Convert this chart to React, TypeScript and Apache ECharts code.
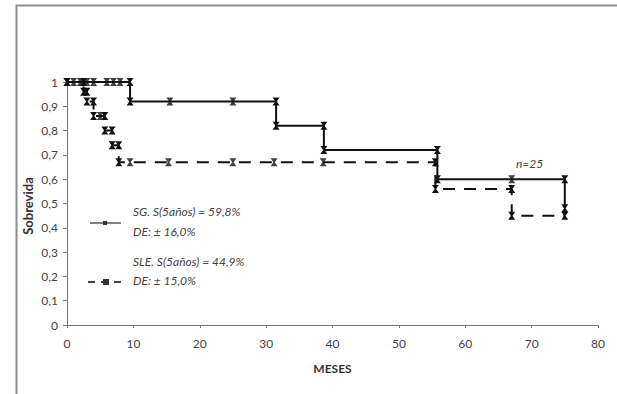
import React, { useEffect, useRef } from "react";
import * as echarts from "echarts";

// Kaplan-Meier curve vertices (months, survival)
const sgTimes = [0, 9.5, 9.5, 31.5, 31.5, 38.7, 38.7, 55.8, 55.8, 75, 75];
const sgSurv = [1, 1, 0.92, 0.92, 0.82, 0.82, 0.72, 0.72, 0.6, 0.6, 0.48];
const sgCensorTimes = [1, 2, 3, 4, 6, 7, 8, 15.5, 25, 67];
const sgCensorSurv = [1, 1, 1, 1, 1, 1, 1, 0.92, 0.92, 0.6];

const sleTimes = [0, 2.5, 2.5, 3, 3, 4, 4, 5.7, 5.7, 6.8, 6.8, 7.8, 7.8, 55.5, 55.5, 67, 67, 75];
const sleSurv = [1, 1, 0.96, 0.96, 0.92, 0.92, 0.86, 0.86, 0.8, 0.8, 0.74, 0.74, 0.67, 0.67, 0.56, 0.56, 0.45, 0.45];
const sleCensorTimes = [5, 9.5, 15.3, 25, 31.2, 38.6];
const sleCensorSurv = [0.86, 0.67, 0.67, 0.67, 0.67, 0.67];

const xTicks = [0, 10, 20, 30, 40, 50, 60, 70, 80];
const yTicks = [0, 0.1, 0.2, 0.3, 0.4, 0.5, 0.6, 0.7, 0.8, 0.9, 1];

const xTitle = "MESES";
const yTitle = "Sobrevida";
const legendSG = ["SG. S(5años) = 59,8%", "DE: ± 16,0%"];
const legendSLE = ["SLE. S(5años) = 44,9%", "DE: ± 15,0%"];
const annotation = "n=25";

const FONT = "Lato, 'Open Sans', sans-serif";
const MARK = "path://M0,0 L10,0 L6,5 L10,10 L0,10 L4,5 Z";
const MSIZE = [7, 8];

export default function App() {
  const ref = useRef<HTMLDivElement>(null);
  useEffect(() => {
    if (!ref.current) return;
    const chart = echarts.init(ref.current, undefined, { renderer: "svg" });
    const zip = (a: number[], b: number[]) => a.map((v, i) => [v, b[i]]);
    chart.setOption({
      animation: false,
      backgroundColor: "#ffffff",
      grid: { left: 67, right: 19, top: 82, bottom: 69 },
      xAxis: {
        type: "value",
        min: xTicks[0],
        max: xTicks[xTicks.length - 1],
        interval: 10,
        name: xTitle,
        nameLocation: "middle",
        nameGap: 37,
        nameTextStyle: { fontFamily: FONT, fontWeight: "bold", fontSize: 12, color: "#333" },
        axisLine: { lineStyle: { color: "#777", width: 1 } },
        axisTick: { show: true, length: 3, lineStyle: { color: "#777" } },
        axisLabel: { fontFamily: FONT, fontSize: 12, color: "#444", margin: 12, formatter: (v: number) => String(v) },
        splitLine: { show: false },
      },
      yAxis: {
        type: "value",
        min: yTicks[0],
        max: yTicks[yTicks.length - 1],
        interval: 0.1,
        axisLine: { show: true, lineStyle: { color: "#777", width: 1 } },
        axisTick: { show: true, length: 4, lineStyle: { color: "#777" } },
        axisLabel: {
          fontFamily: FONT,
          fontSize: 12,
          color: "#444",
          margin: 9,
          formatter: (v: number) => (Math.round(v * 10) / 10).toString().replace(".", ","),
        },
        splitLine: { show: false },
      },
      series: [
        {
          type: "line",
          name: "SG",
          data: zip(sgTimes, sgSurv),
          symbol: MARK,
          symbolSize: MSIZE,
          showSymbol: true,
          lineStyle: { color: "#111", width: 2 },
          itemStyle: { color: "#111" },
          z: 3,
        },
        {
          type: "scatter",
          name: "SG censor",
          data: zip(sgCensorTimes, sgCensorSurv),
          symbol: MARK,
          symbolSize: MSIZE,
          itemStyle: { color: "#111" },
          z: 4,
        },
        {
          type: "line",
          name: "SLE",
          data: zip(sleTimes, sleSurv),
          symbol: MARK,
          symbolSize: MSIZE,
          showSymbol: true,
          lineStyle: { color: "#111", width: 2, type: [12, 9] },
          itemStyle: { color: "#111" },
          z: 2,
        },
        {
          type: "scatter",
          name: "SLE censor",
          data: zip(sleCensorTimes, sleCensorSurv),
          symbol: MARK,
          symbolSize: MSIZE,
          itemStyle: { color: "#111" },
          z: 4,
        },
      ],
      graphic: [
        {
          type: "rect",
          left: 14,
          top: 3,
          shape: { width: 700, height: 500 },
          style: { fill: "none", stroke: "#8c8c8c", lineWidth: 2 },
          silent: true,
        },
        {
          type: "text",
          x: 28,
          y: 206,
          rotation: Math.PI / 2,
          style: {
            text: yTitle,
            fontFamily: FONT,
            fontWeight: "bold",
            fontSize: 13,
            fill: "#333",
            align: "center",
            verticalAlign: "middle",
          },
        },
        // legend SG
        {
          type: "line",
          shape: { x1: 90, y1: 223, x2: 121, y2: 223 },
          style: { stroke: "#555", lineWidth: 1.5 },
        },
        { type: "rect", shape: { x: 103, y: 221, width: 4, height: 4 }, style: { fill: "#333" } },
        {
          type: "text",
          x: 133,
          y: 211,
          style: { text: legendSG[0], fontFamily: FONT, fontStyle: "italic", fontSize: 12, fill: "#444", verticalAlign: "middle" },
        },
        {
          type: "text",
          x: 133,
          y: 231,
          style: { text: legendSG[1], fontFamily: FONT, fontStyle: "italic", fontSize: 12, fill: "#444", verticalAlign: "middle" },
        },
        // legend SLE
        {
          type: "line",
          shape: { x1: 88, y1: 282, x2: 126, y2: 282 },
          style: { stroke: "#444", lineWidth: 2, lineDash: [7, 6] },
        },
        { type: "rect", shape: { x: 103, y: 279, width: 6, height: 6 }, style: { fill: "#333" } },
        {
          type: "text",
          x: 133,
          y: 261,
          style: { text: legendSLE[0], fontFamily: FONT, fontStyle: "italic", fontSize: 12, fill: "#444", verticalAlign: "middle" },
        },
        {
          type: "text",
          x: 133,
          y: 280,
          style: { text: legendSLE[1], fontFamily: FONT, fontStyle: "italic", fontSize: 12, fill: "#444", verticalAlign: "middle" },
        },
        {
          type: "text",
          x: 516,
          y: 163,
          style: { text: annotation, fontFamily: FONT, fontStyle: "italic", fontSize: 12, fill: "#444", verticalAlign: "middle" },
        },
      ],
    });
    return () => chart.dispose();
  }, []);
  return (
    <div
      ref={ref}
      style={{ position: "fixed", left: 0, top: 0, width: 617, height: 394, background: "#fff" }}
    />
  );
}
